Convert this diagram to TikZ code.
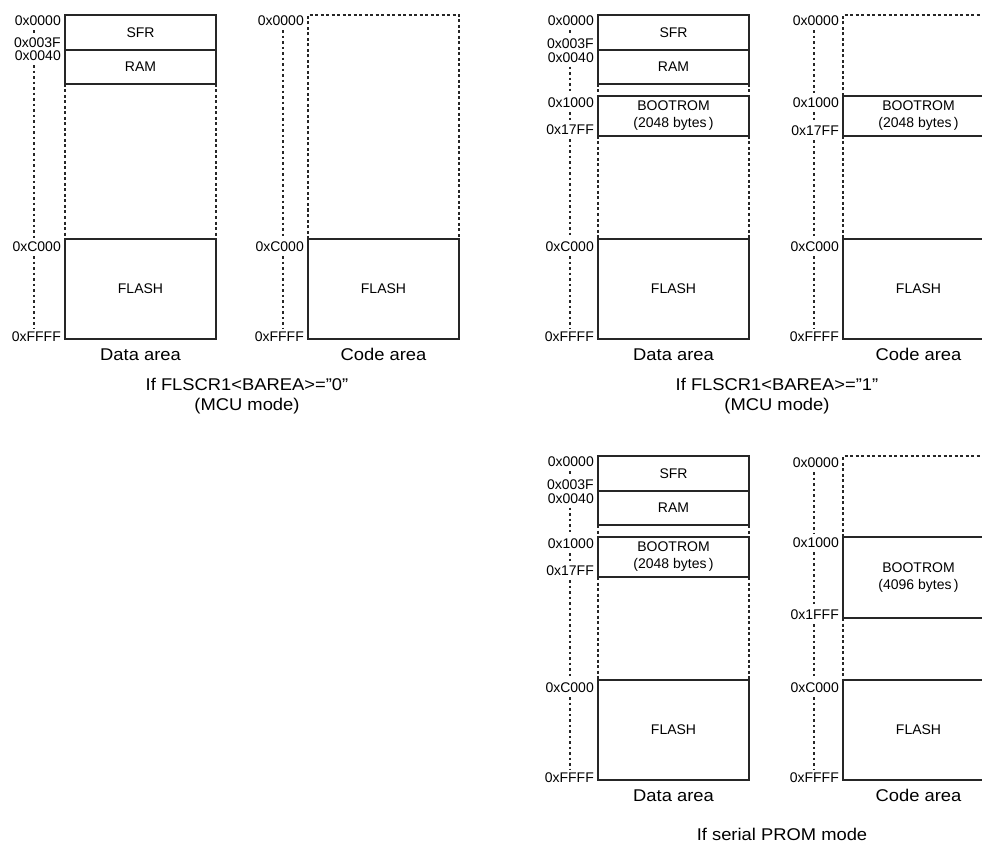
\documentclass[tikz,border=0pt]{standalone}
\usepackage{fontspec}
\setmainfont{Liberation Sans}
\newfontfamily\capfont[FakeStretch=1.08]{Liberation Sans}
\newcommand\membox[5]{\node[region, minimum height={(#4)-(#3)}] (#1) at ({#2+75.5},{((#3)+(#4))/2}) {#5};}
\begin{document}
\begin{tikzpicture}[x=1pt,y=-1pt,
  region/.style={draw=black!85, line width=1.3pt, minimum width=151pt, inner sep=0pt, outer sep=0pt,
     align=center, font=\fontsize{14}{17}\selectfont},
  addr/.style={anchor=east, inner sep=0pt, font=\fontsize{14}{16}\selectfont},
  captxt/.style={anchor=base, inner sep=0pt, font=\capfont\fontsize{17}{19}\selectfont},
  dline/.style={draw=black!85, line width=1.2pt, dash pattern=on 3pt off 2.5pt},
  aline/.style={draw=black!85, line width=1.2pt, dash pattern=on 2.5pt off 3pt},
]
\clip (0,0) rectangle (982,845);
\fill[white] (0,0) rectangle (982,845);

% ---------- Panel A : data area, BAREA=0
\membox{sfrA}{65}{15}{50}{SFR}
\membox{ramA}{65}{50}{84}{RAM}
\membox{flashA}{65}{239}{339}{FLASH}
\draw[dline] (ramA.south west) -- (flashA.north west);
\draw[dline] (ramA.south east) -- (flashA.north east);
\node[addr] (aA1) at (61,21) {0x0000};
\node[addr] (aA2) at (61,42.5) {0x003F};
\node[addr] (aA3) at (61,56) {0x0040};
\node[addr] (aA4) at (61,247) {0xC000};
\node[addr] (aA5) at (61,337) {0xFFFF};
\coordinate (xA) at (34,0);
\draw[aline] ([yshift=-4pt]aA1.south -| xA) -- ([yshift=4pt]aA2.north -| xA);
\draw[aline] ([yshift=-4pt]aA3.south -| xA) -- ([yshift=4pt]aA4.north -| xA);
\draw[aline] ([yshift=-4pt]aA4.south -| xA) -- ([yshift=4pt]aA5.north -| xA);
\node[captxt] (cA) at (140.5,360) {Data area};

% ---------- Panel B : code area, BAREA=0
\membox{flashB}{308}{239}{339}{FLASH}
\coordinate (tlB) at (308,15);
\coordinate (trB) at (459,15);
\draw[dline] (flashB.north west) -- (tlB) -- (trB) -- (flashB.north east);
\node[addr] (aB1) at (304,21) {0x0000};
\node[addr] (aB2) at (304,247) {0xC000};
\node[addr] (aB3) at (304,337) {0xFFFF};
\coordinate (xB) at (283,0);
\draw[aline] ([yshift=-4pt]aB1.south -| xB) -- ([yshift=4pt]aB2.north -| xB);
\draw[aline] ([yshift=-4pt]aB2.south -| xB) -- ([yshift=4pt]aB3.north -| xB);
\node[captxt] (cB) at (383.5,360) {Code area};

\node[captxt] (t1) at (247,390) {If FLSCR1<BAREA>=”0”};
\node[captxt] (t1b) at (247,410) {(MCU mode)};

% ---------- Panel C : data area, BAREA=1
\membox{sfrC}{598}{15}{50}{SFR}
\membox{ramC}{598}{50}{84}{RAM}
\membox{bootC}{598}{96}{136}{BOOTROM\\(2048 bytes\,)}
\membox{flashC}{598}{239}{339}{FLASH}
\draw[dline] (ramC.south west) -- (bootC.north west);
\draw[dline] (ramC.south east) -- (bootC.north east);
\draw[dline] (bootC.south west) -- (flashC.north west);
\draw[dline] (bootC.south east) -- (flashC.north east);
\node[addr] (aC1) at (594,21) {0x0000};
\node[addr] (aC2) at (594,44) {0x003F};
\node[addr] (aC3) at (594,57.5) {0x0040};
\node[addr] (aC4) at (594,103) {0x1000};
\node[addr] (aC5) at (594,130) {0x17FF};
\node[addr] (aC6) at (594,247) {0xC000};
\node[addr] (aC7) at (594,337) {0xFFFF};
\coordinate (xC) at (570,0);
\draw[aline] ([yshift=-4pt]aC1.south -| xC) -- ([yshift=4pt]aC2.north -| xC);
\draw[aline] ([yshift=-4pt]aC3.south -| xC) -- ([yshift=4pt]aC4.north -| xC);
\draw[aline] ([yshift=-4pt]aC4.south -| xC) -- ([yshift=4pt]aC5.north -| xC);
\draw[aline] ([yshift=-4pt]aC5.south -| xC) -- ([yshift=4pt]aC6.north -| xC);
\draw[aline] ([yshift=-4pt]aC6.south -| xC) -- ([yshift=4pt]aC7.north -| xC);
\node[captxt] (cC) at (673.5,360) {Data area};

% ---------- Panel D : code area, BAREA=1
\membox{bootD}{843}{96}{136}{BOOTROM\\(2048 bytes\,)}
\membox{flashD}{843}{239}{339}{FLASH}
\coordinate (tlD) at (843,15);
\coordinate (trD) at (994,15);
\draw[dline] (bootD.north west) -- (tlD) -- (trD) -- (bootD.north east);
\draw[dline] (bootD.south west) -- (flashD.north west);
\draw[dline] (bootD.south east) -- (flashD.north east);
\node[addr] (aD1) at (839,21) {0x0000};
\node[addr] (aD2) at (839,103) {0x1000};
\node[addr] (aD3) at (839,131) {0x17FF};
\node[addr] (aD4) at (839,247) {0xC000};
\node[addr] (aD5) at (839,337) {0xFFFF};
\coordinate (xD) at (814,0);
\draw[aline] ([yshift=-4pt]aD1.south -| xD) -- ([yshift=4pt]aD2.north -| xD);
\draw[aline] ([yshift=-4pt]aD2.south -| xD) -- ([yshift=4pt]aD3.north -| xD);
\draw[aline] ([yshift=-4pt]aD3.south -| xD) -- ([yshift=4pt]aD4.north -| xD);
\draw[aline] ([yshift=-4pt]aD4.south -| xD) -- ([yshift=4pt]aD5.north -| xD);
\node[captxt] (cD) at (918.5,360) {Code area};

\node[captxt] (t2) at (777,390) {If FLSCR1<BAREA>=”1”};
\node[captxt] (t2b) at (777,410) {(MCU mode)};

\begin{scope}[yshift=-441pt]
% ---------- Panel E : data area, serial PROM
\membox{sfrE}{598}{15}{50}{SFR}
\membox{ramE}{598}{50}{84}{RAM}
\membox{bootE}{598}{96}{136}{BOOTROM\\(2048 bytes\,)}
\membox{flashE}{598}{239}{339}{FLASH}
\draw[dline] (ramE.south west) -- (bootE.north west);
\draw[dline] (ramE.south east) -- (bootE.north east);
\draw[dline] (bootE.south west) -- (flashE.north west);
\draw[dline] (bootE.south east) -- (flashE.north east);
\node[addr] (aE1) at (594,21) {0x0000};
\node[addr] (aE2) at (594,44) {0x003F};
\node[addr] (aE3) at (594,57.5) {0x0040};
\node[addr] (aE4) at (594,103) {0x1000};
\node[addr] (aE5) at (594,130) {0x17FF};
\node[addr] (aE6) at (594,247) {0xC000};
\node[addr] (aE7) at (594,337) {0xFFFF};
\coordinate (xE) at (570,0);
\draw[aline] ([yshift=-4pt]aE1.south -| xE) -- ([yshift=4pt]aE2.north -| xE);
\draw[aline] ([yshift=-4pt]aE3.south -| xE) -- ([yshift=4pt]aE4.north -| xE);
\draw[aline] ([yshift=-4pt]aE4.south -| xE) -- ([yshift=4pt]aE5.north -| xE);
\draw[aline] ([yshift=-4pt]aE5.south -| xE) -- ([yshift=4pt]aE6.north -| xE);
\draw[aline] ([yshift=-4pt]aE6.south -| xE) -- ([yshift=4pt]aE7.north -| xE);
\node[captxt] (cE) at (673.5,360) {Data area};

% ---------- Panel F : code area, serial PROM
\membox{bootF}{843}{96}{177}{BOOTROM\\(4096 bytes\,)}
\membox{flashF}{843}{239}{339}{FLASH}
\coordinate (tlF) at (843,15);
\coordinate (trF) at (994,15);
\draw[dline] (bootF.north west) -- (tlF) -- (trF) -- (bootF.north east);
\draw[dline] (bootF.south west) -- (flashF.north west);
\draw[dline] (bootF.south east) -- (flashF.north east);
\node[addr] (aF1) at (839,22) {0x0000};
\node[addr] (aF2) at (839,102) {0x1000};
\node[addr] (aF3) at (839,174) {0x1FFF};
\node[addr] (aF4) at (839,247) {0xC000};
\node[addr] (aF5) at (839,337) {0xFFFF};
\coordinate (xF) at (814,0);
\draw[aline] ([yshift=-4pt]aF1.south -| xF) -- ([yshift=4pt]aF2.north -| xF);
\draw[aline] ([yshift=-4pt]aF2.south -| xF) -- ([yshift=4pt]aF3.north -| xF);
\draw[aline] ([yshift=-4pt]aF3.south -| xF) -- ([yshift=4pt]aF4.north -| xF);
\draw[aline] ([yshift=-4pt]aF4.south -| xF) -- ([yshift=4pt]aF5.north -| xF);
\node[captxt] (cF) at (918.5,360) {Code area};

\node[captxt] (t3) at (782,399) {If serial PROM mode};
\end{scope}
\end{tikzpicture}
\end{document}
